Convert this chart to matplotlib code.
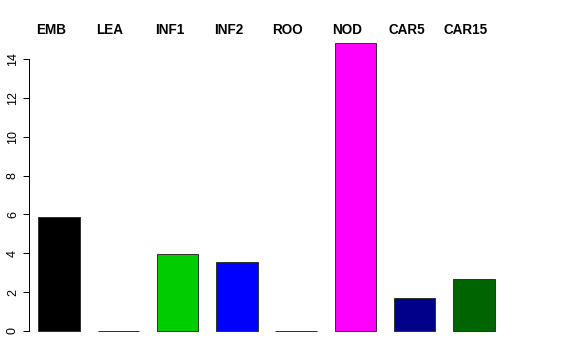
import matplotlib
matplotlib.use("Agg")
import matplotlib.pyplot as plt
from matplotlib.transforms import blended_transform_factory

categories = ["EMB", "LEA", "INF1", "INF2", "ROO", "NOD", "CAR5", "CAR15"]
values = [5.85, 0.0, 3.95, 3.55, 0.0, 14.82, 1.68, 2.67]
colors = ["#000000", "#FF0000", "#00CD00", "#0000FF", "#00FFFF", "#FF00FF", "#00008B", "#006400"]
yticks = [0, 2, 4, 6, 8, 10, 12, 14]

plt.rcParams['font.family'] = ['Liberation Sans', 'DejaVu Sans']

fig = plt.figure(figsize=(8, 5), dpi=72)
ax = fig.add_axes([29/576, (360-342.5)/360, (504-29)/576, (342.5-31.5)/360])

x = list(range(len(categories)))
ax.bar(x, values, width=0.7, color=colors, edgecolor="#333333", linewidth=1.0)

ax.set_xlim(-0.506, 7.506)
ax.set_ylim(-0.593, 15.41)
ax.set_xticks([])
ax.set_yticks(yticks)
ax.set_yticklabels([str(t) for t in yticks], rotation=90, va='center', fontsize=12.5)
ax.tick_params(axis='y', length=6, width=1, pad=4)
for s in ["top", "right", "bottom"]:
    ax.spines[s].set_visible(False)
ax.spines["left"].set_bounds(0, 14)
ax.spines["left"].set_linewidth(1)

trans = blended_transform_factory(ax.transData, fig.transFigure)
for xi, lab in zip(x, categories):
    fig.text(xi - 0.14, 1 - 30.5/360, lab, transform=trans, ha='center', va='center',
             fontsize=13.5, fontweight='bold')

fig.savefig("out.png", dpi=72)
